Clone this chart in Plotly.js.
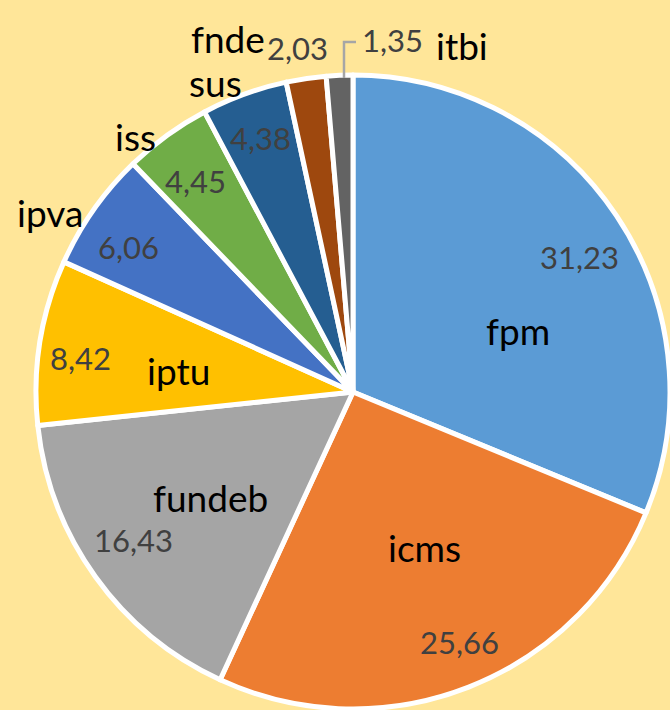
<!DOCTYPE html>
<html>
<head>
<meta charset="utf-8">
<script src="https://cdn.plot.ly/plotly-3.0.1.min.js"></script>
<style>
  html, body { margin: 0; padding: 0; background: #FFE699; overflow: hidden; }
  #chart { width: 670px; height: 710px; }
</style>
</head>
<body>
<div id="chart"></div>
<script>
// ---- data ----
const categories = ["fpm", "icms", "fundeb", "iptu", "ipva", "iss", "sus", "fnde", "itbi"];
const values = [31.23, 25.66, 16.43, 8.42, 6.06, 4.45, 4.38, 2.03, 1.35];
const colors = ["#5B9BD5", "#ED7D31", "#A5A5A5", "#FFC000", "#4472C4", "#70AD47", "#255E91", "#9E480E", "#636363"];

// ---- label placement (pixels in the 670x710 page) ----
const W = 670, H = 710;
const namePos = [[518, 330], [424, 547], [211, 498], [178, 370], [50, 212], [135, 137], [215, 83], [228, 38], [462, 45]];
const valuePos = [[579, 257], [459, 642], [133, 540], [80, 358], [128, 247], [195, 181], [260, 138], [297, 48], [392, 40]];

const fmt = v => v.toFixed(2).replace('.', ',');

const annotations = [];
categories.forEach((c, i) => {
  annotations.push({
    text: c, xref: 'paper', yref: 'paper',
    x: namePos[i][0] / W, y: 1 - namePos[i][1] / H,
    xanchor: 'center', yanchor: 'middle', showarrow: false,
    font: { family: 'Lato, "Noto Sans", sans-serif', size: 37, color: '#000000' }
  });
  annotations.push({
    text: fmt(values[i]), xref: 'paper', yref: 'paper',
    x: valuePos[i][0] / W, y: 1 - valuePos[i][1] / H,
    xanchor: 'center', yanchor: 'middle', showarrow: false,
    font: { family: 'Lato, "Noto Sans", sans-serif', size: 31, color: '#404040' }
  });
});

// pie placement: center (353,392), radius 317
const cx = 353, cy = 392, r = 317;
const trace = {
  type: 'pie',
  labels: categories,
  values: values,
  sort: false,
  direction: 'clockwise',
  rotation: 0,
  textinfo: 'none',
  hoverinfo: 'label+value',
  marker: { colors: colors, line: { color: '#FFFFFF', width: 5 } },
  domain: { x: [(cx - r) / W, Math.min(1, (cx + r) / W)], y: [1 - (cy + r) / H, 1 - (cy - r) / H] },
  showlegend: false
};

const layout = {
  width: W, height: H,
  margin: { l: 0, r: 0, t: 0, b: 0, pad: 0 },
  paper_bgcolor: '#FFE699',
  plot_bgcolor: '#FFE699',
  showlegend: false,
  annotations: annotations,
  shapes: [{
    type: 'path', xref: 'paper', yref: 'paper',
    path: `M ${344 / W} ${1 - 78 / H} L ${344 / W} ${1 - 42 / H} L ${356 / W} ${1 - 42 / H}`,
    line: { color: '#A6A6A6', width: 2.5 }
  }]
};

Plotly.newPlot('chart', [trace], layout, { displayModeBar: false, staticPlot: true });
</script>
</body>
</html>
